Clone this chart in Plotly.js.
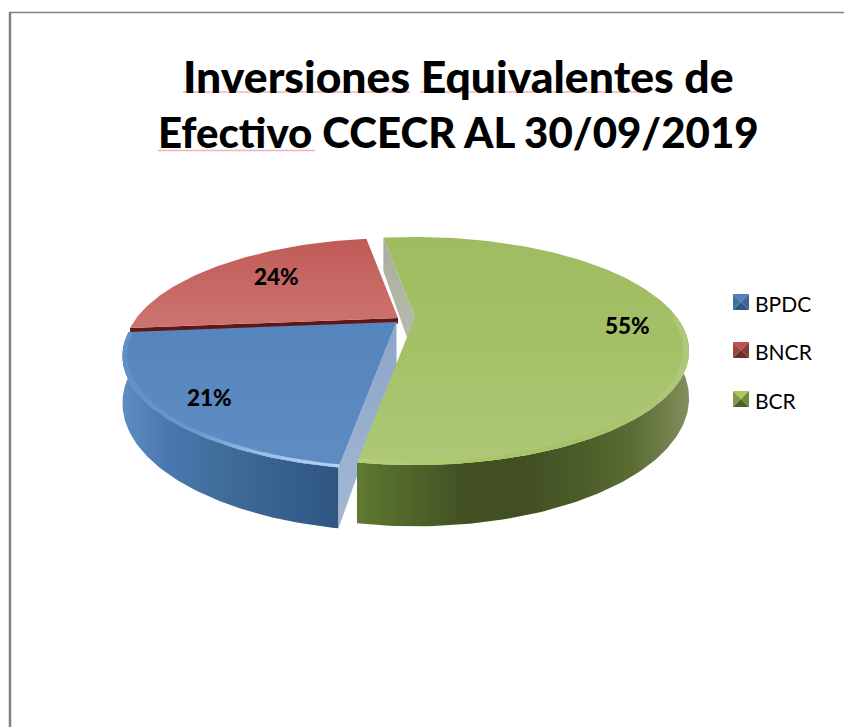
<!DOCTYPE html>
<html><head><meta charset="utf-8">
<script src="https://cdn.plot.ly/plotly-3.0.1.min.js"></script>
<style>html,body{margin:0;padding:0;background:#fff}#c{width:844px;height:727px}</style>
</head><body><div id="c"></div>
<script>
const categories = ['BPDC','BNCR','BCR'];
const values = [21,24,55];
const titleLines = ['Inversiones Equivalentes de','Efectivo CCECR AL 30/09/2019'];
const FONT = 'Lato, "Open Sans", sans-serif';

// projection of the tilted disc (perspective)
const A=261.6,B=103.9,P=0.298,D=43;
const total=values.reduce((a,b)=>a+b,0);
const startAngle=-9; // degrees clockwise from the back, where BCR begins
// BCR, then BPDC, then BNCR clockwise
const order=[2,0,1];
const spans={}; let acc=startAngle;
order.forEach(i=>{const s=values[i]/total*360;spans[i]=[acc,acc+s];acc+=s;});
const apex=[[396.5,322],[398,318],[415,317]];

function pt(i,r,deg,z){
  const t=deg*Math.PI/180,u=r*Math.sin(t),v=-r*Math.cos(t),w=1-P*v;
  return [apex[i][0]+A*u/w, apex[i][1]+(B*v+D*(z||0))/w];
}
function arc(i,a,b,r,z){const o=[],n=Math.max(2,Math.ceil(Math.abs(b-a)));
  for(let k=0;k<=n;k++)o.push(pt(i,r,a+(b-a)*k/n,z));return o;}
function poly(pts,grad,name,line){
  const xs=pts.map(p=>p[0]),ys=pts.map(p=>p[1]);
  const t={type:'scatter',mode:'lines',x:xs,y:ys,fill:'toself',name:name||'',showlegend:false,hoverinfo:'skip',
    line:line||{width:0}};
  if(Array.isArray(grad)){t.fillgradient={type:grad[0],colorscale:grad[1].map((c,k)=>[k/(grad[1].length-1),c])};t.fillcolor='rgba(0,0,0,0)';}
  else t.fillcolor=grad;
  return t;
}
function wall(i,a,b){return arc(i,a,b,1,0).concat(arc(i,b,a,1,1));}
function radial(i,deg,z){const d=z===undefined?1:z;return [pt(i,0,0,0),pt(i,1,deg,0),pt(i,1,deg,d),pt(i,0,0,d)];}
function rim(i,a,b,r){return arc(i,a,b,1,0).concat(arc(i,b,a,r,0));}

const traces=[];
const [gs,ge]=spans[2],[bs,be]=spans[0],[rs,re]=spans[1];
// BCR back cut wall
traces.push(poly(radial(2,gs),['vertical',['#b9bfb0','#a9ad9f']],'BCR pared'));
// BNCR
traces.push(poly(radial(1,be,0.13),'#5e1715','BNCR pared'));
traces.push(poly([pt(1,0,0,0)].concat(arc(1,rs,re,1,0)),['vertical',['#cd7470','#c05b57']],categories[1]));
// BPDC walls
traces.push(poly(wall(0,bs,be),['horizontal',['#5f8cc2','#4a78b0','#41709f','#3b6594','#355e8c','#2f5580']],'BPDC lado'));
traces.push(poly(radial(0,bs),['vertical',['#a4b8d4','#8aa6c9']],'BPDC corte'));
traces.push(poly([pt(0,0,0,0)].concat(arc(0,bs,be,1,0)),['vertical',['#5f8cc3','#5585bd']],categories[0]));
traces.push(poly(rim(0,bs,be,0.985),['horizontal',['#6090c8','#6898d0','#9cc2ea','#b4d6f5']],'BPDC borde'));
// BCR walls
traces.push(poly(wall(2,90,ge),['horizontal',['#5f7a30','#4f6429','#414f23','#414f23','#4b5c29','#5b6c34','#818f5c']],'BCR lado'));
traces.push(poly([pt(2,0,0,0)].concat(arc(2,gs,ge,1,0)),['vertical',['#aec877','#a4c168','#9fbc60']],categories[2]));
traces.push(poly(rim(2,90,ge,0.98),['horizontal',['#b4cf78','#a9c768','#a5c265','#b0c87c']],'BCR borde'));

// data labels
const labelPos=[[209,397],[276,276],[627,325]];
const annotations=categories.map((c,i)=>({xref:'x',yref:'y',x:labelPos[i][0],y:labelPos[i][1],showarrow:false,
  text:values[i]+'%',font:{family:FONT,size:22.5,color:'#000',weight:900}}));

// legend
const legendY=[302,350,399];
const legendCol=[['#4f81bd','#3a6596','#41709f','#2f5580'],['#c0504d','#8c3a38','#a04542','#6b2b29'],['#a8cb5c','#6d8b38','#7f9a48','#4f6128']];
const shapes=[];
categories.forEach((c,i)=>{
  const y=legendY[i],x0=733,x1=749,y0=y-8,y1=y+8,mx=(x0+x1)/2;
  const tri=(ax,ay,bx,by,col)=>shapes.push({type:'path',xref:'x',yref:'y',path:`M${ax},${ay}L${bx},${by}L${mx},${y}Z`,fillcolor:col,line:{width:0}});
  tri(x0,y0,x1,y0,legendCol[i][0]);tri(x1,y0,x1,y1,legendCol[i][1]);tri(x0,y0,x0,y1,legendCol[i][2]);tri(x0,y1,x1,y1,legendCol[i][3]);
  annotations.push({xref:'x',yref:'y',x:753,y:y+1,xanchor:'left',showarrow:false,text:c,font:{family:FONT,size:21,color:'#000'}});
});
// frame
shapes.push({type:'line',xref:'x',yref:'y',x0:10,x1:10,y0:12,y1:727,line:{color:'#808080',width:2.5}});
shapes.push({type:'line',xref:'x',yref:'y',x0:9,x1:844,y0:12.5,y1:12.5,line:{color:'#808080',width:1.5}});
// spell-check underlines
[[183,410,92],[420,648,92],[158,315,150.5]].forEach(s=>shapes.push({type:'line',xref:'x',yref:'y',x0:s[0],x1:s[1],y0:s[2],y1:s[2],line:{color:'#f9b0b0',width:1.5}}));

Plotly.newPlot('c',traces,{
  width:844,height:727,margin:{l:0,r:0,t:0,b:0},paper_bgcolor:'#fff',plot_bgcolor:'#fff',showlegend:false,
  title:{text:'<span style="font-size:44.5px">'+titleLines[0]+'</span><br>'+titleLines[1],x:0.543,xanchor:'center',y:0.872,yanchor:'middle',font:{family:FONT,size:42,color:'#000',weight:900}},
  xaxis:{range:[0,844],visible:false,fixedrange:true},
  yaxis:{range:[727,0],visible:false,fixedrange:true},
  shapes,annotations
},{staticPlot:true,displayModeBar:false});
</script></body></html>
